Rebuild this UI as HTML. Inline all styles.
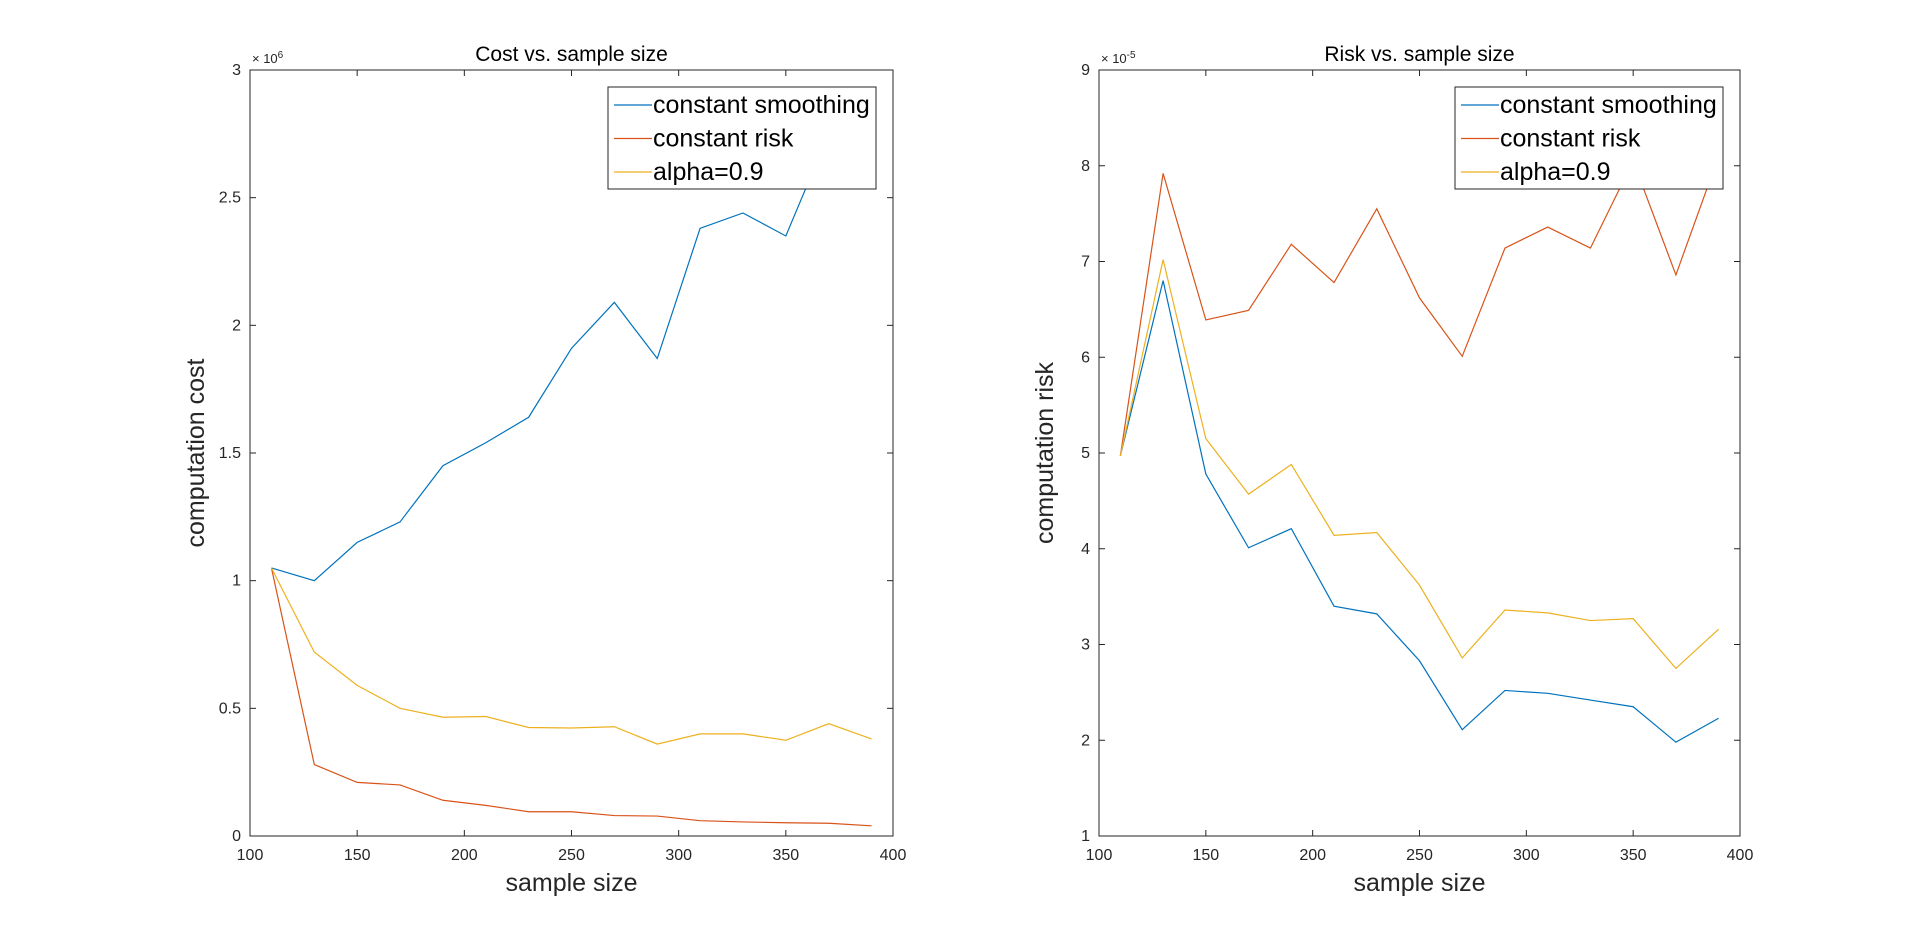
<!DOCTYPE html>
<html><head><meta charset="utf-8"><style>
body{margin:0;background:#fff;}
svg{display:block;font-family:"Liberation Sans",sans-serif;}
</style></head><body>
<svg id="fig" width="1920" height="937" viewBox="0 0 1920 937"></svg>
<script>
const xs=[110,130,150,170,190,210,230,250,270,290,310,330,350,370,390];
const costSmooth=[1.05,1.0,1.15,1.23,1.45,1.54,1.64,1.91,2.09,1.87,2.38,2.44,2.35,2.75,2.9];
const costRisk=[1.05,0.28,0.21,0.20,0.14,0.12,0.095,0.095,0.08,0.078,0.06,0.055,0.052,0.05,0.04];
const costAlpha=[1.05,0.72,0.59,0.50,0.465,0.468,0.425,0.423,0.428,0.36,0.40,0.40,0.375,0.44,0.38];
const riskSmooth=[4.97,6.8,4.78,4.01,4.21,3.40,3.32,2.83,2.11,2.52,2.49,2.42,2.35,1.98,2.23];
const riskRisk=[4.97,7.92,6.39,6.49,7.18,6.78,7.55,6.62,6.01,7.14,7.36,7.14,8.05,6.86,8.1];
const riskAlpha=[4.97,7.02,5.15,4.57,4.88,4.14,4.17,3.62,2.86,3.36,3.33,3.25,3.27,2.75,3.16];
const xTicks=[100,150,200,250,300,350,400];
const costTicks=[0,0.5,1,1.5,2,2.5,3];
const riskTicks=[1,2,3,4,5,6,7,8,9];
const seriesNames=["constant smoothing","constant risk","alpha=0.9"];
const colors=["#0072BD","#D95319","#EDB120"];
const NS="http://www.w3.org/2000/svg";
const svg=document.getElementById('fig');
function mk(tag,attrs,parent){const e=document.createElementNS(NS,tag);for(const k in attrs)e.setAttribute(k,attrs[k]);(parent||svg).appendChild(e);return e;}
function txt(s,attrs,parent){const e=mk('text',attrs,parent);e.textContent=s;return e;}
function panel(id,L,R,T,B,ymin,ymax,yt,series,title,ylabel,exp){
  const g=mk('g',{});
  
  
  const X=v=>L+(v-100)/300*(R-L);
  const Yf=v=>B-(v-ymin)/(ymax-ymin)*(B-T);
  const cp=mk('clipPath',{id:'cp'+id},g);mk('rect',{x:L,y:T,width:R-L,height:B-T},cp);
  series.forEach((s,i)=>{
    const p=mk('polyline',{points:s.map((v,j)=>X(xs[j])+','+Yf(v)).join(' '),fill:'none',stroke:colors[i],'stroke-width':1.2,'clip-path':'url(#cp'+id+')'},g);
    
    
  });
  mk('rect',{x:L,y:T,width:R-L,height:B-T,fill:'none',stroke:'#262626','stroke-width':1},g);
  xTicks.forEach(t=>{const x=X(t);
    mk('line',{x1:x,x2:x,y1:B,y2:B-6,stroke:'#262626'},g);mk('line',{x1:x,x2:x,y1:T,y2:T+6,stroke:'#262626'},g);
    const e=txt(String(t),{x:x,y:B+24,'text-anchor':'middle','font-size':16,fill:'#262626'},g);
    
    });
  yt.forEach(t=>{const y=Yf(t);
    mk('line',{x1:L,x2:L+6,y1:y,y2:y,stroke:'#262626'},g);mk('line',{x1:R,x2:R-6,y1:y,y2:y,stroke:'#262626'},g);
    const e=txt(String(t),{x:L-9,y:y+5,'text-anchor':'end','font-size':16,fill:'#262626'},g);
    
    });
  const ex=mk('text',{x:L+2,y:T-7,'font-size':13,fill:'#262626'},g);ex.textContent='× 10';
  
  
  const ts=mk('tspan',{'font-size':10,dy:-5},ex);ts.textContent=exp;
  const ti=txt(title,{x:(L+R)/2,y:T-9,'text-anchor':'middle','font-size':21,fill:'#000'},g);
  
  
  const xl=txt('sample size',{x:(L+R)/2,y:B+55,'text-anchor':'middle','font-size':25,fill:'#262626'},g);
  
  
  const yl=txt(ylabel,{x:0,y:0,'text-anchor':'middle','font-size':25,fill:'#262626',transform:'translate('+(L-46)+','+((T+B)/2)+') rotate(-90)'},g);
  
  
  const lg=mk('g',{},g);
  
  
  const lx=R-285,ly=T+17;
  mk('rect',{x:lx,y:ly,width:268,height:102,fill:'#fff',stroke:'#262626'},lg);
  seriesNames.forEach((n,i)=>{const y=ly+18+i*33.5;
    mk('line',{x1:lx+6,x2:lx+44,y1:y,y2:y,stroke:colors[i],'stroke-width':1.2},lg);
    const e=txt(n,{x:lx+45,y:y+8,'font-size':25,fill:'#000'},lg);
    
    });
}
panel('cost',250,893,70,836,0,3,costTicks,[costSmooth,costRisk,costAlpha],'Cost vs. sample size','computation cost','6');
panel('risk',1099,1740,70,836,1,9,riskTicks,[riskSmooth,riskRisk,riskAlpha],'Risk vs. sample size','computation risk','-5');
</script>
</body></html>
